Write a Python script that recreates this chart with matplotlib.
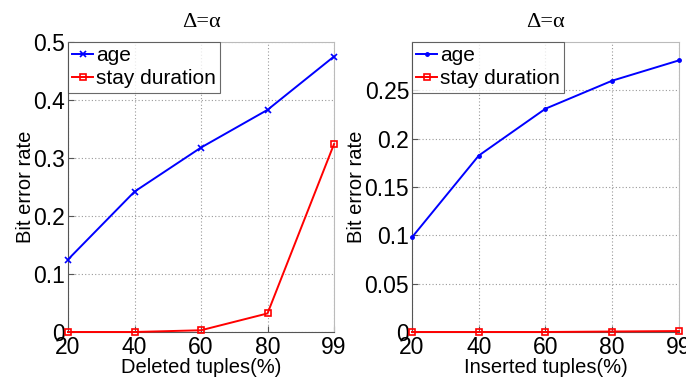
import matplotlib
matplotlib.use("Agg")
import matplotlib.pyplot as plt

x_labels = ["20", "40", "60", "80", "99"]
x_pos = list(range(len(x_labels)))

del_age = [0.125, 0.242, 0.318, 0.383, 0.475]
del_stay = [0.0, 0.0, 0.003, 0.032, 0.324]

ins_age = [0.098, 0.1825, 0.231, 0.260, 0.281]
ins_stay = [0.0, 0.0, 0.0, 0.0005, 0.001]

left_yticks = [0, 0.1, 0.2, 0.3, 0.4, 0.5]
left_yticklabels = ["0", "0.1", "0.2", "0.3", "0.4", "0.5"]
right_yticks = [0, 0.05, 0.1, 0.15, 0.2, 0.25]
right_yticklabels = ["0", "0.05", "0.1", "0.15", "0.2", "0.25"]

plt.rcParams['font.family'] = ['Liberation Sans', 'DejaVu Sans']

fig = plt.figure(figsize=(6.86, 3.79), dpi=100)
W, H = 686, 379

def make_ax(x0, x1, y0, y1):
    return fig.add_axes([x0 / W, (H - y1) / H, (x1 - x0) / W, (y1 - y0) / H])

axL = make_ax(68, 334, 42, 332)
axR = make_ax(412, 679, 42, 332)

def style(ax, ylim, yticks, yticklabels, xlabel):
    ax.set_xlim(0, 4)
    ax.set_ylim(*ylim)
    ax.set_xticks(x_pos)
    ax.set_xticklabels(x_labels)
    ax.set_yticks(yticks)
    ax.set_yticklabels(yticklabels)
    ax.tick_params(direction='in', labelsize=16.5, length=4, color='#555555', pad=2)
    ax.tick_params(axis='x', pad=3)
    ax.grid(True, linestyle=(0, (1, 2)), color='#999999', linewidth=0.8)
    ax.set_axisbelow(True)
    for s in ['left', 'bottom']:
        ax.spines[s].set_color('#555555')
        ax.spines[s].set_linewidth(0.8)
    for s in ['top', 'right']:
        ax.spines[s].set_color('#bbbbbb')
        ax.spines[s].set_linewidth(0.8)
    ax.set_xlabel(xlabel, fontsize=14.5, labelpad=-1)
    ax.set_ylabel("Bit error rate", fontsize=14.5, labelpad=-1)
    ax.set_title("\u0394=\u03b1", fontsize=16, family=['Liberation Serif', 'DejaVu Serif'], pad=11)

axL.plot(x_pos, del_age, color='blue', marker='x', markersize=4, markeredgewidth=1.2, linewidth=1.4, label='age', clip_on=False, zorder=3)
axL.plot(x_pos, del_stay, color='red', marker='s', markersize=4, markerfacecolor='none', markeredgewidth=1.2, linewidth=1.4, label='stay duration', clip_on=False, zorder=3)
style(axL, (0, 0.5), left_yticks, left_yticklabels, "Deleted tuples(%)")

axR.plot(x_pos, ins_age, color='blue', marker='.', markersize=5, linewidth=1.4, label='age', clip_on=False, zorder=3)
axR.plot(x_pos, ins_stay, color='red', marker='s', markersize=4, markerfacecolor='none', markeredgewidth=1.2, linewidth=1.4, label='stay duration', clip_on=False, zorder=3)
style(axR, (0, 0.3), right_yticks, right_yticklabels, "Inserted tuples(%)")

for ax in (axL, axR):
    leg = ax.legend(loc='upper left', fontsize=15, frameon=True, fancybox=False,
                    borderaxespad=0, borderpad=0.2, handlelength=1.0, handletextpad=0.15,
                    labelspacing=0.2)
    leg.get_frame().set_edgecolor('#444444')
    leg.get_frame().set_linewidth(0.8)

fig.savefig("out.png", dpi=100)
